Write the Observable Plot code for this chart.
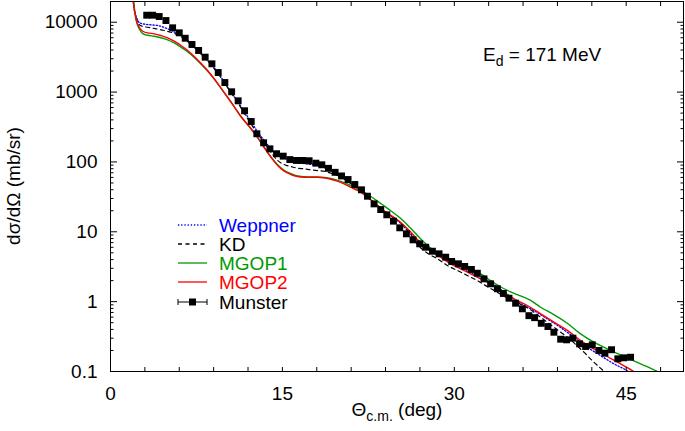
<!DOCTYPE html>
<html><head><meta charset="utf-8">
<script src="https://cdn.jsdelivr.net/npm/d3@7"></script>
<script src="https://cdn.jsdelivr.net/npm/@observablehq/plot@0.6"></script>
<style>body{margin:0;background:#fff;}</style>
</head><body><div id="chart"></div>
<script>
// Munster data: [theta_cm (deg), dsigma/dOmega (mb/sr)]
const munster = [[3.16,12600],[3.68,12600],[4.25,12070],[4.84,10570],[5.42,8320],[6.0,7050],[6.52,5900],[7.11,4800],[7.69,3940],[8.26,3160],[8.85,2540],[9.4,1905],[9.98,1370],[10.57,1010],[11.14,750],[11.7,540],[12.28,379],[12.77,253],[13.36,188],[13.91,154],[14.49,131],[15.07,121],[15.65,108],[16.23,105],[16.76,105],[17.33,104],[17.92,96],[18.44,91],[19.02,81],[19.6,71],[20.16,63],[20.73,56],[21.32,47.5],[21.9,39.9],[22.42,32.3],[23.0,25.1],[23.58,20.8],[24.11,17.5],[24.69,14.2],[25.24,11.4],[25.82,9.35],[26.4,7.67],[26.98,6.73],[27.51,6.01],[28.09,5.27],[28.67,4.84],[29.25,4.33],[29.77,3.76],[30.36,3.48],[30.91,3.19],[31.49,2.89],[32.01,2.55],[32.59,2.12],[33.17,1.8],[33.76,1.53],[34.28,1.31],[34.77,1.12],[35.35,0.95],[35.94,0.79],[36.51,0.63],[37.01,0.59],[37.59,0.49],[38.17,0.44],[38.69,0.365],[39.28,0.29],[39.8,0.284],[40.35,0.3],[40.93,0.249],[41.46,0.228],[42.04,0.241],[42.62,0.2],[43.14,0.183],[43.72,0.205],[44.27,0.152],[44.79,0.157],[45.38,0.16]];
const weppner = [[1.85,40000],[1.99,19800],[2.25,12000],[2.6,9680],[3.24,9270],[4.12,8970],[4.99,8050],[5.86,6820],[6.73,5470],[7.6,3940],[8.47,2830],[9.35,1925],[10.22,1175],[11.09,733],[11.96,447],[12.83,272],[13.41,203],[13.99,156],[14.58,128],[15.15,114],[15.74,105],[16.32,98],[16.9,95],[17.48,92],[18.06,89],[18.64,83],[19.22,75.3],[19.81,66],[20.38,57],[20.97,49],[21.55,41],[22.13,34.2],[22.71,28.5],[23.3,23.4],[23.87,19.8],[25.33,13.2],[26.2,9.3],[27.07,7.0],[27.94,5.5],[28.81,4.45],[29.68,3.62],[30.56,3.05],[31.43,2.6],[32.3,2.2],[33.17,1.86],[34.05,1.5],[34.92,1.18],[35.79,0.94],[36.95,0.745],[38.12,0.565],[39.28,0.425],[40.44,0.31],[41.6,0.223],[42.76,0.169],[43.92,0.129],[44.94,0.106],[45.5,0.093]];
const kd = [[1.85,40000],[1.99,19800],[2.25,11500],[2.6,8970],[3.53,8320],[4.4,7790],[5.27,7190],[6.15,6240],[6.73,5300],[7.6,3940],[8.47,2790],[9.35,1875],[10.22,1160],[11.09,710],[11.96,419],[12.83,255],[13.41,190],[13.99,138],[14.58,105],[15.15,91.8],[15.74,86],[16.32,81.3],[16.9,79.6],[17.48,77.1],[18.06,75.3],[18.64,73.6],[19.22,69],[19.81,64],[20.38,58],[20.97,49.1],[21.55,41.7],[22.13,34.8],[22.71,29],[23.3,23.8],[23.87,19.5],[25.33,13.4],[26.2,9.14],[26.78,6.6],[27.66,4.94],[28.53,4.1],[29.4,3.29],[30.27,2.79],[31.14,2.37],[32.01,2.0],[32.89,1.64],[33.76,1.36],[34.63,1.12],[35.5,0.96],[36.37,0.82],[37.53,0.598],[38.69,0.43],[39.86,0.31],[41.31,0.189],[42.18,0.136],[42.91,0.106],[43.3,0.092]];
const mgop1 = [[1.87,40000],[2.02,19800],[2.25,10500],[2.55,7800],[2.85,6800],[3.24,6500],[3.82,6300],[4.4,6000],[4.99,5600],[5.56,5050],[6.15,4400],[6.73,3780],[7.31,3120],[7.89,2520],[8.47,2000],[9.05,1530],[9.63,1140],[10.22,840],[10.79,620],[11.38,447],[12.25,301],[12.83,224],[13.41,163],[13.99,119],[14.58,91],[15.15,76],[15.74,68],[16.32,63],[16.9,61.5],[17.48,61],[18.06,61],[18.64,60],[19.22,58],[19.81,54.5],[20.38,50.5],[20.97,46],[21.55,41.5],[22.13,37],[22.71,32],[23.3,27.5],[23.87,23.5],[24.45,20],[25.33,15.5],[26.2,11.2],[27.07,7.9],[28.09,5.6],[29.25,4.4],[30.36,3.55],[31.49,2.95],[32.3,2.5],[33.17,2.0],[34.05,1.62],[34.92,1.38],[35.5,1.26],[36.66,1.04],[37.53,0.832],[38.69,0.654],[39.86,0.491],[41.02,0.346],[42.18,0.263],[43.35,0.211],[44.51,0.173],[45.67,0.142],[46.83,0.117],[47.56,0.103],[48.43,0.089]];
const mgop2 = [[1.85,40000],[1.99,19800],[2.22,11190],[2.51,8480],[2.81,7420],[3.24,7050],[3.82,6820],[4.4,6450],[4.99,5980],[5.56,5350],[6.15,4640],[6.73,3940],[7.31,3230],[7.89,2590],[8.47,2040],[9.05,1550],[9.63,1150],[10.22,844],[10.79,621],[11.38,447],[12.25,301],[12.83,224],[13.41,161],[13.99,117],[14.58,88.9],[15.15,73.7],[15.74,66.1],[16.32,61.8],[16.9,60.4],[17.48,60.4],[18.06,60.4],[18.64,59.3],[19.22,56.6],[19.81,53],[20.38,48.6],[20.97,43.5],[21.55,39],[22.13,34.2],[22.71,28.7],[23.87,20],[25.33,13.6],[26.2,9.9],[26.92,7.3],[27.94,5.4],[28.81,4.33],[29.68,3.48],[30.56,2.95],[31.43,2.5],[32.3,2.12],[33.17,1.8],[34.05,1.47],[35.2,1.1],[36.37,0.881],[37.53,0.67],[38.69,0.508],[39.86,0.387],[41.02,0.278],[42.18,0.211],[43.35,0.164],[44.51,0.129],[45.53,0.103],[46.25,0.088]];

const seriesNames = ["Weppner", "KD", "MGOP1", "MGOP2", "Munster"];
const seriesColors = ["#0000ff", "#000000", "#009a00", "#ff0000", "#000000"];
const xLabelTicks = [0, 15, 30, 45];
const yLabelTicks = [0.1, 1, 10, 100, 1000, 10000];
const yTickLabels = ["0.1", "1", "10", "100", "1000", "10000"];
const xTitle = ["Θ", "c.m.", " (deg)"];
const yTitle = "dσ/dΩ (mb/sr)";
const energyText = ["E", "d", " = 171 MeV"];

const font = "'Liberation Sans', Arial, Helvetica, sans-serif";
const xMinor = d3.range(0, 49, 3);
const yMinor = yLabelTicks.flatMap(d => d3.range(2, 10).map(k => d * k)).filter(v => v < 19800);
const lineOpts = (c, w, dash) => ({x: d => d[0], y: d => d[1], stroke: c, strokeWidth: w, strokeDasharray: dash, curve: "monotone-x", clip: true});

const chart = Plot.plot({
  width: 685, height: 431,
  marginLeft: 110, marginRight: 2, marginTop: 1, marginBottom: 60,
  x: {domain: [0, 50]},
  y: {type: "log", domain: [0.1, 19800]},
  style: {fontFamily: font, fontSize: "19px", background: "#fff", color: "#000"},
  marks: [
    Plot.line(weppner, lineOpts(seriesColors[0], 1.3, "1.3,1.9")),
    Plot.line(kd, lineOpts(seriesColors[1], 1.2, "4,3.5")),
    Plot.line(mgop1, lineOpts(seriesColors[2], 1.4)),
    Plot.line(mgop2, lineOpts(seriesColors[3], 1.4)),
    Plot.dot(munster, {x: d => d[0], y: d => d[1], symbol: "square", r: 3.9, fill: "#000", stroke: "none", clip: true}),
    Plot.axisX({anchor: "bottom", ticks: xMinor, tickSize: -4, tickFormat: () => "", label: null}),
    Plot.axisX({anchor: "top", ticks: xMinor, tickSize: -4, tickFormat: () => "", label: null}),
    Plot.axisY({anchor: "left", ticks: yLabelTicks, tickSize: -7, tickFormat: () => "", label: null}),
    Plot.axisY({anchor: "right", ticks: yLabelTicks, tickSize: -7, tickFormat: () => "", label: null}),
    Plot.axisY({anchor: "left", ticks: yMinor, tickSize: -3.5, tickFormat: () => "", label: null}),
    Plot.axisY({anchor: "right", ticks: yMinor, tickSize: -3.5, tickFormat: () => "", label: null}),
    Plot.axisX({anchor: "bottom", ticks: xLabelTicks, tickSize: 0, tickPadding: 15, tickFormat: d => String(d), label: null, fontSize: 19}),
    Plot.axisY({anchor: "left", ticks: yLabelTicks, tickSize: 0, tickPadding: 13, tickFormat: d => yTickLabels[yLabelTicks.indexOf(d)], label: null, fontSize: 19}),
    Plot.frame({stroke: "#000", strokeWidth: 1})
  ]
});
document.getElementById("chart").appendChild(chart);

const svg = d3.select(chart);
// y title
svg.append("text").attr("transform", "translate(13,186) rotate(-90)")
  .attr("text-anchor", "middle").attr("dominant-baseline", "central")
  .attr("fill", "#000").text(yTitle);
// x title
const xl = svg.append("text").attr("x", 397).attr("y", 416).attr("text-anchor", "middle").attr("fill", "#000");
xl.append("tspan").text(xTitle[0]);
xl.append("tspan").attr("dy", 5).attr("font-size", "14px").text(xTitle[1]);
xl.append("tspan").attr("dy", -5).text(xTitle[2]);
// energy annotation
const et = svg.append("text").attr("x", 483).attr("y", 61).attr("text-anchor", "start").attr("fill", "#000");
et.append("tspan").text(energyText[0]);
et.append("tspan").attr("dy", 5).attr("font-size", "14px").text(energyText[1]);
et.append("tspan").attr("dy", -5).text(energyText[2]);
// legend
const legendRows = [225, 244, 263, 282, 302];
const dashes = ["1.3,1.9", "4,3.5", null, null, null];
const lg = svg.append("g").attr("text-anchor", "start");
seriesNames.forEach((name, i) => {
  const y = legendRows[i];
  const ln = lg.append("line").attr("x1", 178).attr("x2", 207).attr("y1", y).attr("y2", y)
    .attr("stroke", seriesColors[i]).attr("stroke-width", i === 4 ? 1 : 1.3);
  if (dashes[i]) ln.attr("stroke-dasharray", dashes[i]);
  if (i === 4) {
    lg.append("line").attr("x1", 178).attr("x2", 178).attr("y1", y - 3).attr("y2", y + 3).attr("stroke", "#000");
    lg.append("line").attr("x1", 207).attr("x2", 207).attr("y1", y - 3).attr("y2", y + 3).attr("stroke", "#000");
    lg.append("rect").attr("x", 189).attr("y", y - 3.5).attr("width", 7).attr("height", 7).attr("fill", "#000");
  }
  lg.append("text").attr("x", 219).attr("y", y).attr("text-anchor", "start").attr("dominant-baseline", "central")
    .attr("fill", i === 4 ? "#000" : seriesColors[i]).text(name);
});
</script>
</body></html>
